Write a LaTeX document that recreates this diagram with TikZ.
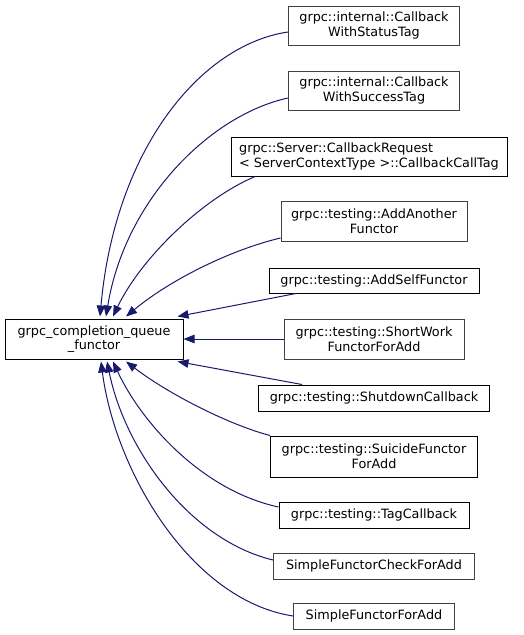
\documentclass[tikz,border=0pt]{standalone}
\usepackage{fontspec}
\setmainfont{DejaVu Sans}
\usetikzlibrary{arrows.meta}
\definecolor{cedge}{HTML}{191970}
\definecolor{cgrey}{HTML}{404040}
\tikzset{
  every picture/.style={x=1pt, y=-1pt, font=\fontsize{12.8}{14.7}\selectfont},
  cls/.style={draw, line width=1pt, inner sep=0pt, align=center},
  grey/.style={draw=cgrey},
  inh/.style={cedge, line width=1pt, -{Triangle[length=11pt,width=8.5pt]}},
}
\def\cx{374}
\begin{document}
\begin{tikzpicture}
  \useasboundingbox (0,0) rectangle (523,635);
  % base class
  \node[cls, minimum width=178, minimum height=40] (base) at (94,339) {grpc\_completion\_queue\\\_functor};
  % derived classes
  \node[cls, grey, minimum width=171, minimum height=39] (status) at (\cx,25.5) {grpc::internal::Callback\\WithStatusTag};
  \node[cls, grey, minimum width=171, minimum height=39] (success) at (\cx,90.5) {grpc::internal::Callback\\WithSuccessTag};
  \node[cls, align=left, minimum width=276, minimum height=39] (calltag) at (369,156.5) {grpc::Server::CallbackRequest\\< ServerContextType >::CallbackCallTag};
  \node[cls, grey, minimum width=186, minimum height=40] (addanother) at (\cx,221) {grpc::testing::AddAnother\\Functor};
  \node[cls, minimum width=210, minimum height=25] (addself) at (\cx,280.5) {grpc::testing::AddSelfFunctor};
  \node[cls, grey, minimum width=180, minimum height=40] (shortwork) at (\cx,339) {grpc::testing::ShortWork\\FunctorForAdd};
  \node[cls, minimum width=231, minimum height=26] (shutdown) at (\cx,398) {grpc::testing::ShutdownCallback};
  \node[cls, minimum width=207, minimum height=41] (suicide) at (\cx,456.5) {grpc::testing::SuicideFunctor\\ForAdd};
  \node[cls, minimum width=190, minimum height=26] (tagcb) at (\cx,515) {grpc::testing::TagCallback};
  \node[cls, grey, minimum width=201, minimum height=26] (simplecheck) at (\cx,566) {SimpleFunctorCheckForAdd};
  \node[cls, grey, minimum width=161, minimum height=26] (simpleadd) at (\cx,616) {SimpleFunctorForAdd};
  % inheritance edges
  \draw[inh] ([yshift=-6.5pt]status.west) .. controls (200,45) and (115,150) .. ([xshift=6pt,yshift=2pt]base.north);
  \draw[inh] ([yshift=-7.5pt]success.west) .. controls (210,115) and (125,200) .. ([xshift=12pt,yshift=2pt]base.north);
  \draw[inh] ([xshift=-114pt]calltag.south) .. controls (200,200) and (140,260) .. ([xshift=19pt,yshift=2pt]base.north);
  \draw[inh] ([yshift=-17pt]addanother.west) .. controls (230,250) and (170,280) .. ([xshift=32pt,yshift=2pt]base.north);
  \draw[inh] ([xshift=-78pt]addself.south) -- ([xshift=-6pt,yshift=2pt]base.north east);
  \draw[inh] (shortwork.west) -- (base.east);
  \draw[inh] ([xshift=-72pt]shutdown.north) -- ([xshift=-6pt,yshift=-2pt]base.south east);
  \draw[inh] (suicide.north west) .. controls (230,425) and (170,395) .. ([xshift=32pt,yshift=-2pt]base.south);
  \draw[inh] ([yshift=8pt]tagcb.west) .. controls (200,490) and (140,420) .. ([xshift=19pt,yshift=-2pt]base.south);
  \draw[inh] ([yshift=6pt]simplecheck.west) .. controls (190,540) and (125,450) .. ([xshift=13pt,yshift=-2pt]base.south);
  \draw[inh] (simpleadd.west) .. controls (190,600) and (115,470) .. ([xshift=7pt,yshift=-2pt]base.south);
\end{tikzpicture}
\end{document}
